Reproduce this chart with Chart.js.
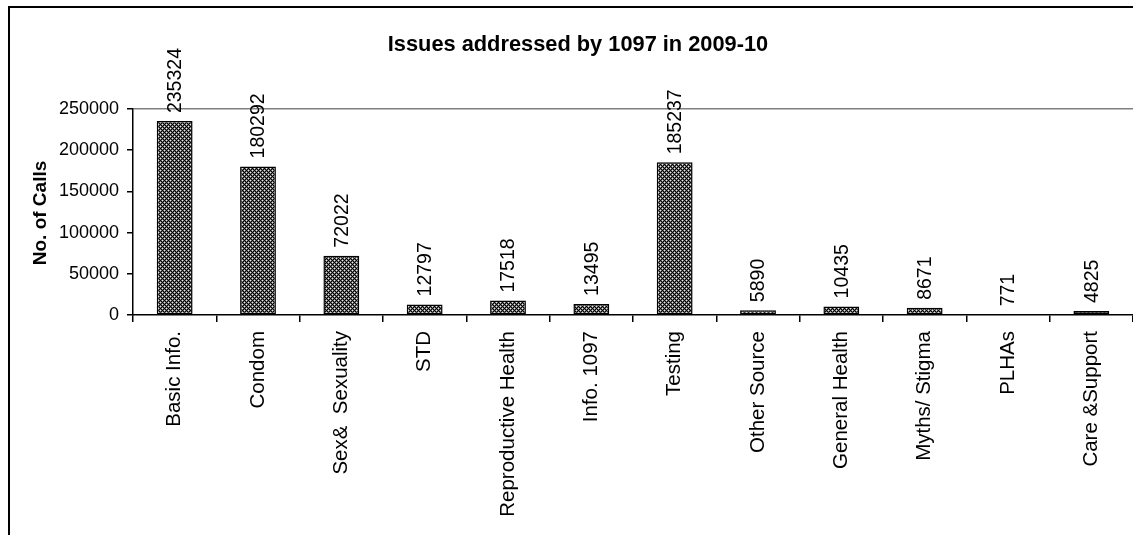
<!DOCTYPE html>
<html>
<head>
<meta charset="utf-8">
<script src="https://cdn.jsdelivr.net/npm/chart.js@4.4.0/dist/chart.umd.min.js"></script>
<style>
  html, body { margin: 0; padding: 0; background: #fff; }
  #chart { display: block; }
</style>
</head>
<body>
<canvas id="chart" width="1133" height="535"></canvas>
<script>
// Données du graphique
const categories = [
  "Basic Info.", "Condom", "Sex&  Sexuality", "STD", "Reproductive Health",
  "Info. 1097", "Testing", "Other Source", "General Health",
  "Myths/ Stigma", "PLHAs", "Care &Support"
];
const calls = [235324, 180292, 72022, 12797, 17518, 13495, 185237, 5890, 10435, 8671, 771, 4825];
const yTicks = [0, 50000, 100000, 150000, 200000, 250000];

const FONT = "'Liberation Sans', Arial, sans-serif";

// Motif quadrillé des barres
function makePattern() {
  const c = document.createElement("canvas");
  c.width = 4;
  c.height = 4;
  const g = c.getContext("2d");
  g.fillStyle = "#6e6e6e";
  g.fillRect(0, 0, 4, 4);
  g.fillStyle = "#000";
  [[0, 0], [1, 1], [2, 2], [3, 3], [1, 3], [3, 1]].forEach(([x, y]) => g.fillRect(x, y, 1, 1));
  g.fillStyle = "#e8e8e8";
  [[2, 0], [0, 2]].forEach(([x, y]) => g.fillRect(x, y, 1, 1));
  return g.createPattern(c, "repeat");
}

const ctx = document.getElementById("chart").getContext("2d");

// Cadre, titres et étiquettes de valeurs
const decorations = {
  id: "decorations",
  afterDatasetsDraw(chart) {
    const g = chart.ctx;
    const meta = chart.getDatasetMeta(0);
    g.save();
    g.fillStyle = "#000";
    g.font = "19.5px " + FONT;
    g.textAlign = "left";
    g.textBaseline = "middle";
    meta.data.forEach((bar, i) => {
      g.save();
      g.translate(bar.x, bar.y - 8);
      g.rotate(-Math.PI / 2);
      g.fillText(String(calls[i]), 0, 1);
      g.restore();
    });
    g.restore();
  },
  afterDraw(chart) {
    const g = chart.ctx;
    g.save();
    // cadre extérieur
    g.strokeStyle = "#000";
    g.lineWidth = 2;
    g.beginPath();
    g.moveTo(9, 535);
    g.lineTo(9, 7);
    g.lineTo(1133, 7);
    g.stroke();

    g.fillStyle = "#000";
    g.textAlign = "center";
    g.textBaseline = "middle";
    g.font = "bold 21.8px " + FONT;
    g.fillText("Issues addressed by 1097 in 2009-10", 578, 45);

    g.save();
    g.translate(41, 213);
    g.rotate(-Math.PI / 2);
    g.font = "bold 19px " + FONT;
    g.fillText("No. of Calls", 0, 0);
    g.restore();
    g.restore();
  }
};

const chart = new Chart(ctx, {
  type: "bar",
  data: {
    labels: categories,
    datasets: [
      {
        data: calls,
        backgroundColor: makePattern(),
        borderColor: "#000",
        borderWidth: 1.5,
        borderSkipped: false,
        barPercentage: 0.43,
        categoryPercentage: 1,
      },
    ],
  },
  options: {
    responsive: false,
    animation: false,
    devicePixelRatio: 1,
    layout: {
      padding: { top: 109, right: 0, bottom: 0, left: 0 },
    },
    plugins: {
      legend: { display: false },
      tooltip: { enabled: false },
      title: { display: false },
    },
    scales: {
      x: {
        offset: true,
        grid: {
          offset: true,
          drawOnChartArea: false,
          color: "#000",
          tickColor: "#000",
          tickLength: 7,
          lineWidth: 1.5,
        },
        border: { color: "#000", width: 1.5 },
        ticks: {
          color: "#000",
          font: { family: FONT, size: 20.5 },
          minRotation: 90,
          maxRotation: 90,
          padding: 9,
          autoSkip: false,
        },
        afterFit: (scale) => {
          scale.height = 220;
        },
      },
      y: {
        min: 0,
        max: 250000,
        afterBuildTicks: (scale) => {
          scale.ticks = yTicks.map((v) => ({ value: v }));
        },
        grid: {
          color: (c) => (c.tick && c.tick.value === 250000 ? "#808080" : "rgba(0,0,0,0)"),
          tickColor: "#000",
          tickLength: 6,
          lineWidth: 1.5,
        },
        border: { color: "#000", width: 1.5 },
        ticks: {
          color: "#000",
          font: { family: FONT, size: 18 },
          padding: 8,
          callback: (v) => String(v),
        },
        afterFit: (scale) => {
          scale.width = 133;
        },
      },
    },
  },
  plugins: [decorations],
});
</script>
</body>
</html>
